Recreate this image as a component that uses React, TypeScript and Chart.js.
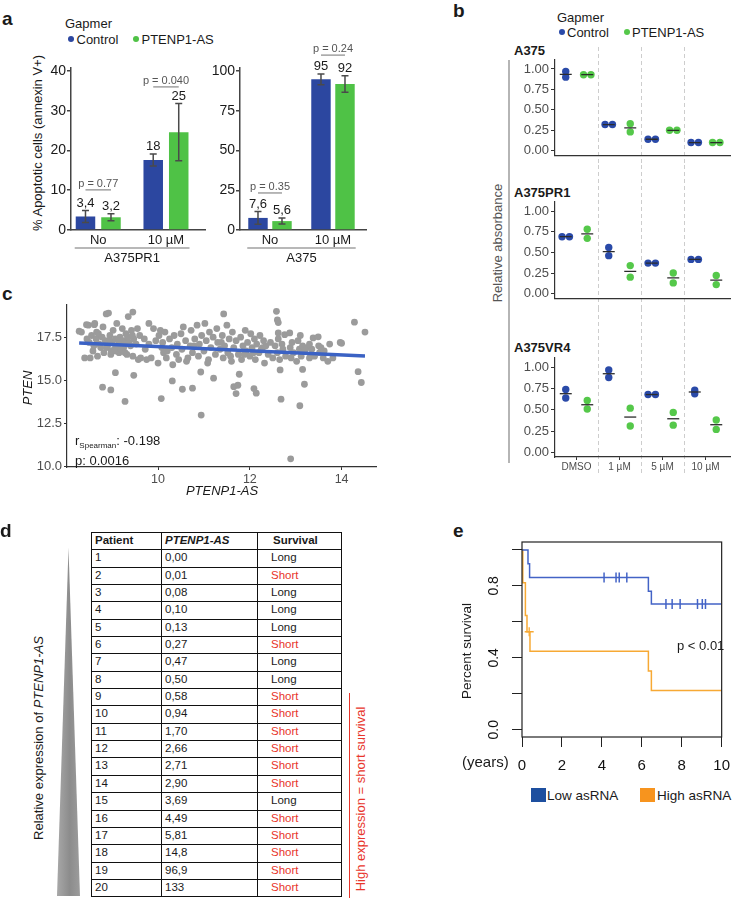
import React, { useEffect, useRef } from 'react';
import { Chart, registerables } from 'chart.js';

Chart.register(...registerables);

const FONT = '"Liberation Sans", Arial, Helvetica, sans-serif';
Chart.defaults.font.family = FONT;

// ---------------- Panel a data ----------------
const aCategories = ['No', '10 µM'];
const aSeriesNames = ['Control', 'PTENP1-AS'];
const a1Control = [3.4, 17.6];
const a1ControlErr = [1.5, 1.5];
const a1Pten = [3.2, 24.6];
const a1PtenErr = [0.9, 7.2];
const a1PTexts = ['p = 0.77', 'p = 0.040'];
const a1PLevel = [10.1, 36.0];
const a1Ticks = [0, 10, 20, 30, 40];
const a2Control = [7.6, 94.8];
const a2ControlErr = [4.0, 3.4];
const a2Pten = [5.6, 91.8];
const a2PtenErr = [1.9, 5.2];
const a2PTexts = ['p = 0.35', 'p = 0.24'];
const a2PLevel = [23.3, 110];
const a2Ticks = [0, 25, 50, 75, 100];

// ---------------- Panel b data ----------------
const bDoses = ['DMSO', '1 µM', '5 µM', '10 µM'];
const bCellLines = ['A375', 'A375PR1', 'A375VR4'];
const bTicks = [0, 0.25, 0.5, 0.75, 1];
const bA375Control = [[0.97, 0.90], [0.32, 0.32], [0.14, 0.14], [0.10, 0.10]];
const bA375Pten = [[0.93, 0.93], [0.33, 0.23], [0.25, 0.25], [0.10, 0.10]];
const bPR1Control = [[0.69, 0.69], [0.56, 0.46], [0.37, 0.37], [0.415, 0.415]];
const bPR1Pten = [[0.78, 0.67], [0.34, 0.20], [0.25, 0.13], [0.22, 0.11]];
const bVR4Control = [[0.74, 0.64], [0.97, 0.88], [0.68, 0.68], [0.73, 0.69]];
const bVR4Pten = [[0.61, 0.51], [0.52, 0.31], [0.47, 0.32], [0.38, 0.27]];

// ---------------- Panel c data ----------------
const cPoints: [number, number][] = [
  [8.28, 17.85], [8.33, 17.8], [8.40, 16.3], [8.45, 17.4], [8.48, 18.2], [8.5, 17.2], [8.52, 16.3], [8.55, 17.6],
  [8.6, 17.0], [8.62, 18.3], [8.65, 17.4], [8.68, 16.4], [8.7, 17.7], [8.72, 17.1], [8.75, 16.9], [8.78, 17.5],
  [8.8, 18.1], [8.82, 16.6], [8.85, 17.3], [8.87, 18.85], [8.9, 17.0], [8.92, 18.9], [8.95, 17.6], [8.97, 16.5],
  [9.0, 17.2], [9.02, 17.9], [9.05, 16.8], [9.07, 17.4], [9.1, 18.3], [9.12, 17.0], [9.15, 16.6], [9.17, 17.5],
  [9.2, 17.1], [9.22, 18.0], [9.25, 16.9], [9.27, 17.3], [9.3, 17.7], [9.32, 16.5], [9.35, 18.7], [9.37, 17.2],
  [9.4, 17.0], [9.42, 17.9], [9.45, 16.4], [9.47, 17.4], [9.45, 18.96], [9.52, 17.1], [9.55, 18.0], [9.57, 16.2],
  [9.6, 17.6], [9.62, 16.3], [8.58, 16.7], [8.88, 16.9], [8.98, 16.7], [9.08, 16.7], [9.18, 16.8], [9.28, 16.6],
  [8.66, 17.8], [8.94, 17.3], [9.14, 17.3], [9.34, 17.5], [9.44, 17.6], [8.44, 18.23], [8.61, 18.23],
  [9.7, 17.4], [9.75, 16.2], [9.8, 17.1], [9.85, 16.3], [9.9, 18.0], [9.95, 17.3], [10.0, 16.0], [10.02, 17.6],
  [10.05, 17.9], [10.08, 16.9], [10.1, 17.2], [10.12, 16.6], [10.15, 17.8], [10.2, 16.7], [10.25, 17.4], [10.3, 16.9],
  [10.32, 15.9], [10.35, 17.6], [10.4, 16.5], [10.42, 17.1], [10.45, 16.2], [10.5, 17.7], [10.52, 16.8], [10.55, 18.1],
  [10.6, 17.3], [10.65, 16.3], [10.7, 17.0], [10.72, 17.9], [10.75, 16.6], [10.8, 17.4], [10.85, 18.2], [10.88, 16.4],
  [10.9, 17.1], [10.95, 17.6], [11.0, 16.7], [11.02, 18.3], [11.05, 17.3], [11.1, 16.2], [11.12, 17.8], [11.15, 16.9],
  [11.2, 17.5], [11.25, 16.5], [11.28, 18.0], [11.3, 17.2], [11.35, 16.8], [11.4, 17.6], [11.42, 16.3], [11.45, 17.0],
  [11.5, 18.2], [11.52, 16.6], [11.55, 17.4], [11.6, 16.1], [11.62, 17.8], [11.65, 16.9], [11.7, 17.3], [11.43, 18.85],
  [11.75, 16.5], [11.8, 17.5], [11.82, 16.2], [11.85, 17.0], [11.9, 17.9], [11.92, 16.7], [11.95, 17.2], [12.0, 16.4],
  [12.02, 17.7], [12.05, 16.9], [12.1, 17.4], [12.12, 16.2], [12.15, 17.1], [12.2, 16.6], [12.22, 17.6], [12.25, 16.8],
  [12.3, 17.3], [12.32, 16.0], [12.35, 17.0], [12.4, 16.5], [12.45, 17.2], [12.5, 16.3], [9.72, 16.8], [10.18, 16.3],
  [10.62, 16.1], [11.08, 16.0], [11.58, 16.4], [12.08, 16.6], [10.78, 17.0], [11.38, 17.2], [11.88, 16.5], [12.28, 16.9],
  [9.8, 18.3],
  [12.55, 17.0], [12.6, 16.6], [12.62, 17.4], [12.65, 16.2], [12.7, 17.1], [12.72, 16.8], [12.62, 17.75], [12.78, 16.4],
  [12.76, 17.65], [12.58, 19.0], [12.6, 18.5], [12.62, 18.35], [12.88, 16.9], [12.9, 16.3], [12.92, 17.2], [12.95, 16.6],
  [12.87, 17.75], [13.02, 16.1], [13.05, 17.3], [13.08, 16.8], [13.1, 17.6], [13.12, 16.4], [13.15, 17.0], [13.2, 16.7],
  [13.25, 16.9], [13.3, 16.3], [13.35, 16.8], [13.38, 17.46], [13.41, 16.4], [13.49, 17.52], [13.5, 17.0], [13.52, 16.6],
  [13.6, 16.3], [13.62, 16.7], [13.7, 16.1], [13.74, 17.1], [13.81, 16.3], [13.97, 17.2], [14.0, 17.15], [14.28, 18.37],
  [14.51, 17.8], [13.3, 17.1], [13.55, 16.9],
  [8.79, 14.6], [8.97, 14.44], [9.07, 15.44], [9.28, 13.77], [9.47, 15.29], [10.07, 13.94], [10.31, 14.96], [10.53, 14.48],
  [10.75, 14.54], [10.94, 12.98], [10.93, 15.48], [11.21, 15.12], [11.65, 14.63], [11.70, 14.23], [11.77, 15.35], [11.74, 14.71],
  [12.09, 14.52], [12.14, 14.25], [12.68, 13.90], [12.66, 15.60], [13.09, 13.52], [13.15, 15.63], [13.19, 14.77], [14.36, 15.5],
  [14.43, 14.87], [12.89, 10.44],
];
const cFitIntercept = 18.17;
const cFitSlope = -0.121;
const cXTicks = [10, 12, 14];
const cYTicks = [10, 12.5, 15, 17.5];

// ---------------- Panel d data ----------------
const dExpression = [0.0, 0.01, 0.08, 0.10, 0.13, 0.27, 0.47, 0.50, 0.58, 0.94, 1.70, 2.66, 2.71, 2.90, 3.69, 4.49, 5.81, 14.8, 96.9, 133];
const dSurvival = ['Long', 'Short', 'Long', 'Long', 'Long', 'Short', 'Long', 'Long', 'Short', 'Short', 'Short', 'Short', 'Short', 'Short', 'Long', 'Short', 'Short', 'Short', 'Short', 'Short'];

// ---------------- Panel e data ----------------
const eGroups = ['Low asRNA', 'High asRNA'];
const eLowTimes = [0.30, 0.38, 6.33, 6.48];
const eLowSurv = [0.923, 0.846, 0.77, 0.70];
const eLowCensor = [4.11, 4.71, 4.87, 5.25, 7.21, 7.52, 7.92, 8.79, 9.03, 9.19];
const eHighTimes = [0.04, 0.17, 0.25, 0.40, 6.33, 6.48];
const eHighSurv = [0.818, 0.636, 0.545, 0.436, 0.327, 0.218];
const eHighCensor = [0.36];
const eXTicks = [0, 2, 4, 6, 8, 10];
const eYTicks = [0, 0.2, 0.4, 0.6, 0.8, 1.0];
const eYLabels = [0, 0.4, 0.8];

// ---------------- colours ----------------
const BLUE = '#2c47a0';
const GREEN = '#4fc246';
const DOT_BLUE = '#2a4aa8';
const DOT_GREEN = '#55c84a';
const LINE_C = '#3b62c4';
const KM_BLUE = '#4363c6';
const KM_ORANGE = '#f7a934';

// ---------------- helpers ----------------
function ChartBox({ left, top, width, height, make }: any) {
  const ref = useRef<HTMLCanvasElement>(null);
  useEffect(() => {
    const chart = new Chart(ref.current as HTMLCanvasElement, make());
    return () => chart.destroy();
  }, []);
  return <canvas ref={ref} width={width} height={height} style={{ position: 'absolute', left, top, width, height }} />;
}

function T({ x, y, size, anchor = 'start', bold, italic, color = '#1a1a1a', children }: any) {
  const tx = anchor === 'middle' ? '-50%' : anchor === 'end' ? '-100%' : '0';
  return (
    <div style={{ position: 'absolute', left: x, top: y - 0.8465 * size, fontSize: size, lineHeight: `${size}px`, fontWeight: bold ? 700 : 400, fontStyle: italic ? 'italic' : 'normal', color, whiteSpace: 'nowrap', transform: `translateX(${tx})` }}>
      {children}
    </div>
  );
}

function RT({ cx, cy, size, color = '#1a1a1a', italic, children }: any) {
  return (
    <div style={{ position: 'absolute', left: cx, top: cy, fontSize: size, lineHeight: `${size}px`, color, fontStyle: italic ? 'italic' : 'normal', whiteSpace: 'nowrap', transform: 'translate(-50%,-50%) rotate(-90deg)' }}>
      {children}
    </div>
  );
}

function Dot({ cx, cy, r, color }: any) {
  return <div style={{ position: 'absolute', left: cx - r, top: cy - r, width: 2 * r, height: 2 * r, borderRadius: '50%', background: color }} />;
}

const fmtVal = (v: number) => (v < 10 ? v.toFixed(1).replace('.', ',') : String(Math.round(v)));

function makeBarConfig(o: any) {
  const annot = {
    id: 'barAnnot',
    afterDatasetsDraw(chart: any) {
      const ctx = chart.ctx;
      const y = chart.scales.y;
      const area = chart.chartArea;
      const m0 = chart.getDatasetMeta(0).data;
      const m1 = chart.getDatasetMeta(1).data;
      const sets: any[] = [[o.control, o.controlErr, m0], [o.pten, o.ptenErr, m1]];
      ctx.save();
      sets.forEach(([vals, errs, els]) => {
        vals.forEach((v: number, i: number) => {
          const x = els[i].x;
          const yt = y.getPixelForValue(v + errs[i]);
          const yb = y.getPixelForValue(v - errs[i]);
          ctx.strokeStyle = '#4a4a4a';
          ctx.lineWidth = 1.5;
          ctx.beginPath();
          ctx.moveTo(x, yt); ctx.lineTo(x, yb);
          ctx.moveTo(x - 3.5, yt); ctx.lineTo(x + 3.5, yt);
          ctx.moveTo(x - 3.5, yb); ctx.lineTo(x + 3.5, yb);
          ctx.stroke();
          ctx.fillStyle = '#1a1a1a';
          ctx.font = `13px ${FONT}`;
          ctx.textAlign = 'center';
          ctx.textBaseline = 'alphabetic';
          ctx.fillText(fmtVal(v), x, yt - 4);
        });
      });
      o.pLevel.forEach((lv: number, i: number) => {
        const x0 = m0[i].x;
        const x1 = m1[i].x;
        const py = y.getPixelForValue(lv);
        ctx.strokeStyle = '#a0a0a0';
        ctx.lineWidth = 1.5;
        ctx.beginPath(); ctx.moveTo(x0, py); ctx.lineTo(x1, py); ctx.stroke();
        ctx.fillStyle = '#555';
        ctx.font = `11px ${FONT}`;
        ctx.textAlign = 'center';
        ctx.textBaseline = 'alphabetic';
        ctx.fillText(o.pTexts[i], (x0 + x1) / 2, py - 3);
      });
      const first = m0[0];
      const last = m1[m1.length - 1];
      const gl = first.x - first.width / 2 - 1;
      const gr = last.x + last.width / 2 + 1;
      const gy = area.bottom + 18;
      ctx.strokeStyle = '#a0a0a0';
      ctx.lineWidth = 1.5;
      ctx.beginPath(); ctx.moveTo(gl, gy); ctx.lineTo(gr, gy); ctx.stroke();
      ctx.fillStyle = '#1a1a1a';
      ctx.font = `13px ${FONT}`;
      ctx.textAlign = 'center';
      ctx.textBaseline = 'middle';
      ctx.fillText(o.group, (gl + gr) / 2, gy + 10);
      ctx.restore();
    },
  };
  return {
    type: 'bar',
    data: {
      datasets: [
        { label: aSeriesNames[0], data: o.control.map((v: number, i: number) => ({ x: i, y: v })), backgroundColor: BLUE, categoryPercentage: o.catPct, barPercentage: o.barPct },
        { label: aSeriesNames[1], data: o.pten.map((v: number, i: number) => ({ x: i, y: v })), backgroundColor: GREEN, categoryPercentage: o.catPct, barPercentage: o.barPct },
      ],
    },
    options: {
      responsive: false,
      animation: false,
      events: [],
      layout: { padding: { top: o.padTop, right: o.padRight, left: 0, bottom: 0 } },
      plugins: { legend: { display: false }, tooltip: { enabled: false } },
      scales: {
        x: {
          type: 'linear', min: o.xMin, max: o.xMax, offset: false,
          afterBuildTicks: (s: any) => { s.ticks = aCategories.map((_, i) => ({ value: i })); },
          afterFit: (s: any) => { s.height = o.xAxisH; },
          ticks: { callback: (v: any) => aCategories[v], font: { size: 13 }, color: '#1a1a1a', padding: 3, maxRotation: 0, autoSkip: false },
          grid: { display: false, drawTicks: false, offset: false },
          border: { color: '#444', width: 1.5 },
        },
        y: {
          min: 0, max: o.yMax,
          afterBuildTicks: (s: any) => { s.ticks = o.ticks.map((v: number) => ({ value: v })); },
          afterFit: (s: any) => { s.width = o.yAxisW; },
          ticks: { font: { size: 14 }, color: '#1a1a1a', padding: 1 },
          grid: { drawOnChartArea: false, drawTicks: true, tickLength: 4, color: '#444', lineWidth: 1.5 },
          border: { color: '#444', width: 1.5 },
        },
      },
    },
    plugins: [annot],
  };
}

const DODGE = 0.086;
function makeDotConfig(ctrl: number[][], pten: number[][], o: any) {
  const mean = (a: number[]) => a.reduce((s, v) => s + v, 0) / a.length;
  const place = (groups: number[][], shift: number) =>
    groups.flatMap((g, i) => g.map((v, k) => {
      const tied = g.length === 2 && g[0] === g[1];
      return { x: i + shift + (tied ? (k === 0 ? -DODGE : DODGE) : 0), y: v };
    }));
  const vlines = {
    id: 'vlines',
    beforeDraw(chart: any) {
      const ctx = chart.ctx;
      const xs = chart.scales.x;
      ctx.save();
      ctx.strokeStyle = '#cdcdcd';
      ctx.lineWidth = 1;
      ctx.setLineDash([4, 3]);
      for (let k = 1; k < bDoses.length; k++) {
        const x = Math.round(xs.getPixelForValue(k)) + 0.5;
        ctx.beginPath(); ctx.moveTo(x, o.dashTop); ctx.lineTo(x, o.dashBottom); ctx.stroke();
      }
      ctx.restore();
    },
  };
  return {
    type: 'scatter',
    data: {
      datasets: [
        {
          data: [...ctrl.map((g, i) => ({ x: i + 0.25, y: mean(g) })), ...pten.map((g, i) => ({ x: i + 0.75, y: mean(g) }))],
          pointStyle: 'line', pointRadius: 6, pointBorderColor: '#2b2b2b', pointBorderWidth: 1.3, order: 0,
        },
        { data: place(ctrl, 0.25), pointRadius: 3.7, pointBackgroundColor: DOT_BLUE, pointBorderWidth: 0, order: 1 },
        { data: place(pten, 0.75), pointRadius: 3.7, pointBackgroundColor: DOT_GREEN, pointBorderWidth: 0, order: 2 },
      ],
    },
    options: {
      responsive: false,
      animation: false,
      events: [],
      layout: { padding: { top: o.padTop, right: 10, left: 0, bottom: 0 } },
      plugins: { legend: { display: false }, tooltip: { enabled: false } },
      scales: {
        x: {
          type: 'linear', min: 0, max: 4.07,
          afterBuildTicks: (s: any) => { s.ticks = bDoses.map((_, i) => ({ value: i + 0.5 })); },
          afterFit: (s: any) => { s.height = o.xAxisH; },
          ticks: { display: o.showX, callback: (_v: any, i: number) => bDoses[i], font: { size: 10 }, color: '#4d4d4d', padding: 1, maxRotation: 0, autoSkip: false },
          grid: { drawOnChartArea: false, drawTicks: o.showX, tickLength: 3, color: '#333', lineWidth: 1 },
          border: { color: '#333', width: 1.2 },
        },
        y: {
          min: -0.055, max: 1.11,
          afterBuildTicks: (s: any) => { s.ticks = bTicks.map((v) => ({ value: v })); },
          afterFit: (s: any) => { s.width = 135; },
          ticks: { callback: (v: any) => Number(v).toFixed(2), font: { size: 13 }, color: '#4d4d4d', padding: 2 },
          grid: { drawOnChartArea: false, tickLength: 4, color: '#333', lineWidth: 1 },
          border: { color: '#333', width: 1.2 },
        },
      },
    },
    plugins: [vlines],
  };
}

function makeScatterConfig() {
  const xs = cPoints.map((p) => p[0]);
  const x0 = Math.min(...xs);
  const x1 = Math.max(...xs);
  const fit = (x: number) => cFitIntercept + cFitSlope * x;
  return {
    type: 'scatter',
    data: {
      datasets: [
        { type: 'line', data: [{ x: x0, y: fit(x0) }, { x: x1, y: fit(x1) }], borderColor: LINE_C, borderWidth: 3.5, pointRadius: 0, order: 0 },
        { data: cPoints.map((p) => ({ x: p[0], y: p[1] })), pointRadius: 3.4, pointBackgroundColor: '#9b9b9b', pointBorderWidth: 0, order: 1 },
      ],
    },
    options: {
      responsive: false,
      animation: false,
      events: [],
      layout: { padding: { top: 10, right: 24, left: 0, bottom: 0 } },
      plugins: { legend: { display: false }, tooltip: { enabled: false } },
      scales: {
        x: {
          type: 'linear', min: 8.015, max: 14.75,
          afterBuildTicks: (s: any) => { s.ticks = cXTicks.map((v) => ({ value: v })); },
          afterFit: (s: any) => { s.height = 28; },
          ticks: { callback: (v: any) => String(v), font: { size: 12.5 }, color: '#4d4d4d', padding: 2, maxRotation: 0 },
          grid: { drawOnChartArea: false, tickLength: 3, color: '#333', lineWidth: 1 },
          border: { color: '#333', width: 1.2 },
        },
        y: {
          min: 9.965, max: 19.37,
          afterBuildTicks: (s: any) => { s.ticks = cYTicks.map((v) => ({ value: v })); },
          afterFit: (s: any) => { s.width = 67; },
          ticks: { callback: (v: any) => Number(v).toFixed(1), font: { size: 13 }, color: '#4d4d4d', padding: 2 },
          grid: { drawOnChartArea: false, tickLength: 3, color: '#333', lineWidth: 1 },
          border: { color: '#333', width: 1.2 },
        },
      },
    },
  };
}

function makeKMConfig() {
  const XMAX = eXTicks[eXTicks.length - 1];
  const steps = (times: number[], surv: number[]) => [{ x: 0, y: 1 }, ...times.map((t, i) => ({ x: t, y: surv[i] })), { x: XMAX, y: surv[surv.length - 1] }];
  const survAt = (times: number[], surv: number[], t: number) => {
    let s = 1;
    times.forEach((tt, i) => { if (tt <= t) s = surv[i]; });
    return s;
  };
  const frame = {
    id: 'frame',
    afterDraw(chart: any) {
      const ctx = chart.ctx;
      const a = chart.chartArea;
      const ys = chart.scales.y;
      ctx.save();
      ctx.strokeStyle = '#222';
      ctx.lineWidth = 1.2;
      ctx.strokeRect(a.left, a.top, a.right - a.left, a.bottom - a.top);
      ctx.fillStyle = '#111';
      ctx.font = `14px ${FONT}`;
      ctx.textAlign = 'center';
      ctx.textBaseline = 'middle';
      eYLabels.forEach((v) => {
        const y = ys.getPixelForValue(v);
        ctx.save();
        ctx.translate(a.left - 28, y);
        ctx.rotate(-Math.PI / 2);
        ctx.fillText(v.toFixed(1), 0, 0);
        ctx.restore();
      });
      ctx.restore();
    },
  };
  return {
    type: 'line',
    data: {
      datasets: [
        { label: eGroups[0], data: steps(eLowTimes, eLowSurv), stepped: 'before', borderColor: KM_BLUE, borderWidth: 1.5, pointRadius: 0, fill: false },
        { label: eGroups[1], data: steps(eHighTimes, eHighSurv), stepped: 'before', borderColor: KM_ORANGE, borderWidth: 1.5, pointRadius: 0, fill: false },
        { type: 'scatter', data: eLowCensor.map((t) => ({ x: t, y: survAt(eLowTimes, eLowSurv, t) })), pointStyle: 'line', pointRotation: 90, pointRadius: 5, pointBorderColor: KM_BLUE, pointBorderWidth: 1.5 },
        { type: 'scatter', data: eHighCensor.map((t) => ({ x: t, y: survAt(eHighTimes, eHighSurv, t) })), pointStyle: 'cross', pointRadius: 4.5, pointBorderColor: KM_ORANGE, pointBorderWidth: 1.3 },
      ],
    },
    options: {
      responsive: false,
      animation: false,
      events: [],
      layout: { padding: { top: 12, right: 8, left: 0, bottom: 0 } },
      plugins: { legend: { display: false }, tooltip: { enabled: false } },
      scales: {
        x: {
          type: 'linear', min: 0, max: XMAX,
          afterBuildTicks: (s: any) => { s.ticks = eXTicks.map((v) => ({ value: v })); },
          afterFit: (s: any) => { s.height = 43; },
          ticks: { callback: (v: any) => String(v), font: { size: 15 }, color: '#111', padding: 10, maxRotation: 0, autoSkip: false },
          grid: { drawOnChartArea: false, tickLength: 10, color: '#222', lineWidth: 1 },
          border: { display: false },
        },
        y: {
          min: -0.04, max: 1.044,
          afterBuildTicks: (s: any) => { s.ticks = eYTicks.map((v) => ({ value: v })); },
          afterFit: (s: any) => { s.width = 82; },
          ticks: { display: false },
          grid: { drawOnChartArea: false, tickLength: 10, color: '#222', lineWidth: 1 },
          border: { display: false },
        },
      },
    },
    plugins: [frame],
  };
}

const fmtExpr = (v: number) => (v < 10 ? v.toFixed(2) : v < 100 ? v.toFixed(1) : v.toFixed(0)).replace('.', ',');

function SurvivalTable() {
  const cols = [70, 96, 84];
  const rowH = 17.35;
  const border = '1.7px solid #111';
  const cell = (content: any, i: number, extra: any = {}) => (
    <div key={i} style={{ boxSizing: 'border-box', borderRight: border, borderBottom: border, paddingLeft: i === 2 ? 13 : 3, fontSize: 11.5, lineHeight: `${rowH - 1.7}px`, height: rowH, whiteSpace: 'nowrap', ...extra }}>{content}</div>
  );
  return (
    <div style={{ position: 'absolute', left: 91, top: 532, display: 'grid', gridTemplateColumns: cols.map((c) => `${c}px`).join(' '), gridAutoRows: `${rowH}px`, borderLeft: border, borderTop: border, color: '#1a1a1a' }}>
      {cell('Patient', 0, { fontWeight: 700 })}
      {cell('PTENP1-AS', 1, { fontWeight: 700, fontStyle: 'italic' })}
      {cell('Survival', 2, { fontWeight: 700, paddingLeft: 15 })}
      {dExpression.map((v, r) => (
        <React.Fragment key={r}>
          {cell(String(r + 1), 0)}
          {cell(fmtExpr(v), 1)}
          {cell(dSurvival[r], 2, { color: dSurvival[r] === 'Short' ? '#e8352b' : '#1a1a1a' })}
        </React.Fragment>
      ))}
    </div>
  );
}

export default function App() {
  return (
    <div style={{ position: 'absolute', left: 0, top: 0, width: 740, height: 899, overflow: 'hidden', background: '#fff', fontFamily: FONT, color: '#1a1a1a' }}>
      {/* ---------- a ---------- */}
      <T x={2} y={25} size={19} bold>a</T>
      <T x={65} y={28.5} size={13}>Gapmer</T>
      <Dot cx={71} cy={39} r={3.4} color={BLUE} />
      <T x={76.5} y={43.6} size={13}>{aSeriesNames[0]}</T>
      <Dot cx={136} cy={39} r={3.4} color={GREEN} />
      <T x={141.5} y={43.6} size={13}>{aSeriesNames[1]}</T>
      <RT cx={37} cy={143} size={13}>% Apoptotic cells (annexin V+)</RT>
      <ChartBox left={0} top={40} width={215} height={240} make={() => makeBarConfig({
        control: a1Control, controlErr: a1ControlErr, pten: a1Pten, ptenErr: a1PtenErr, pTexts: a1PTexts, pLevel: a1PLevel,
        ticks: a1Ticks, yMax: 40.75, xMin: -0.402, xMax: 1.576, catPct: 0.753, barPct: 0.765, group: 'A375PR1',
        padTop: 28, padRight: 10, yAxisW: 71, xAxisH: 50,
      })} />
      <ChartBox left={205} top={40} width={175} height={240} make={() => makeBarConfig({
        control: a2Control, controlErr: a2ControlErr, pten: a2Pten, ptenErr: a2PtenErr, pTexts: a2PTexts, pLevel: a2PLevel,
        ticks: a2Ticks, yMax: 101.9, xMin: -0.476, xMax: 1.524, catPct: 0.762, barPct: 0.81, group: 'A375',
        padTop: 28, padRight: 14, yAxisW: 35, xAxisH: 50,
      })} />

      {/* ---------- b ---------- */}
      <T x={453} y={17} size={19} bold>b</T>
      <T x={557} y={22} size={13}>Gapmer</T>
      <Dot cx={562} cy={32} r={3.4} color={DOT_BLUE} />
      <T x={567} y={36.7} size={13}>{aSeriesNames[0]}</T>
      <Dot cx={627} cy={32} r={3.4} color={DOT_GREEN} />
      <T x={632} y={36.7} size={13}>{aSeriesNames[1]}</T>
      <div style={{ position: 'absolute', left: 508, top: 60, width: 2, height: 403, background: '#b5b5b5' }} />
      <RT cx={497} cy={243} size={13} color="#555">Relative absorbance</RT>
      <T x={514} y={54.7} size={13} bold>{bCellLines[0]}</T>
      <T x={514} y={196.7} size={13} bold>{bCellLines[1]}</T>
      <T x={514} y={351.7} size={13} bold>{bCellLines[2]}</T>
      <ChartBox left={420} top={40} width={320} height={125} make={() => makeDotConfig(bA375Control, bA375Pten, { showX: false, padTop: 20, xAxisH: 7, dashTop: 7, dashBottom: 125 })} />
      <ChartBox left={420} top={165} width={320} height={143} make={() => makeDotConfig(bPR1Control, bPR1Pten, { showX: false, padTop: 37, xAxisH: 8, dashTop: 0, dashBottom: 143 })} />
      <ChartBox left={420} top={308} width={320} height={172} make={() => makeDotConfig(bVR4Control, bVR4Pten, { showX: true, padTop: 50, xAxisH: 23, dashTop: 0, dashBottom: 165 })} />

      {/* ---------- c ---------- */}
      <T x={2} y={300} size={19} bold>c</T>
      <ChartBox left={0} top={295} width={400} height={200} make={makeScatterConfig} />
      <RT cx={27} cy={388} size={13} italic>PTEN</RT>
      <T x={222} y={494.7} size={13} anchor="middle" italic>PTENP1-AS</T>
      <T x={75} y={444.7} size={13}>r<sub style={{ fontSize: 8, verticalAlign: -3 }}>Spearman</sub>: -0.198</T>
      <T x={75} y={464.7} size={13}>p: 0.0016</T>

      {/* ---------- d ---------- */}
      <T x={0} y={537} size={19} bold>d</T>
      <div style={{ position: 'absolute', left: 57, top: 548, width: 23, height: 348, clipPath: 'polygon(50% 0, 100% 100%, 0 100%)', background: 'linear-gradient(to right, #a8a8a8, #8c8c8c 55%, #9c9c9c)' }} />
      <RT cx={38} cy={738} size={13}>Relative expression of <i>PTENP1-AS</i></RT>
      <SurvivalTable />
      <div style={{ position: 'absolute', left: 348.5, top: 693, width: 1.5, height: 205, background: '#e8352b' }} />
      <RT cx={360} cy={799} size={13} color="#e8352b">High expression = short survival</RT>

      {/* ---------- e ---------- */}
      <T x={453} y={537} size={19} bold>e</T>
      <ChartBox left={440} top={530} width={300} height={250} make={makeKMConfig} />
      <RT cx={467} cy={651} size={13.5}>Percent survival</RT>
      <T x={462} y={767} size={15}>(years)</T>
      <T x={677} y={649.7} size={13}>p &lt; 0.01</T>
      <div style={{ position: 'absolute', left: 531, top: 788, width: 15, height: 14, background: '#1d4f9f' }} />
      <T x={547} y={800} size={13.5}>{eGroups[0]}</T>
      <div style={{ position: 'absolute', left: 640, top: 788, width: 15, height: 14, background: '#f7941e' }} />
      <T x={657} y={800} size={13.5}>{eGroups[1]}</T>
    </div>
  );
}
